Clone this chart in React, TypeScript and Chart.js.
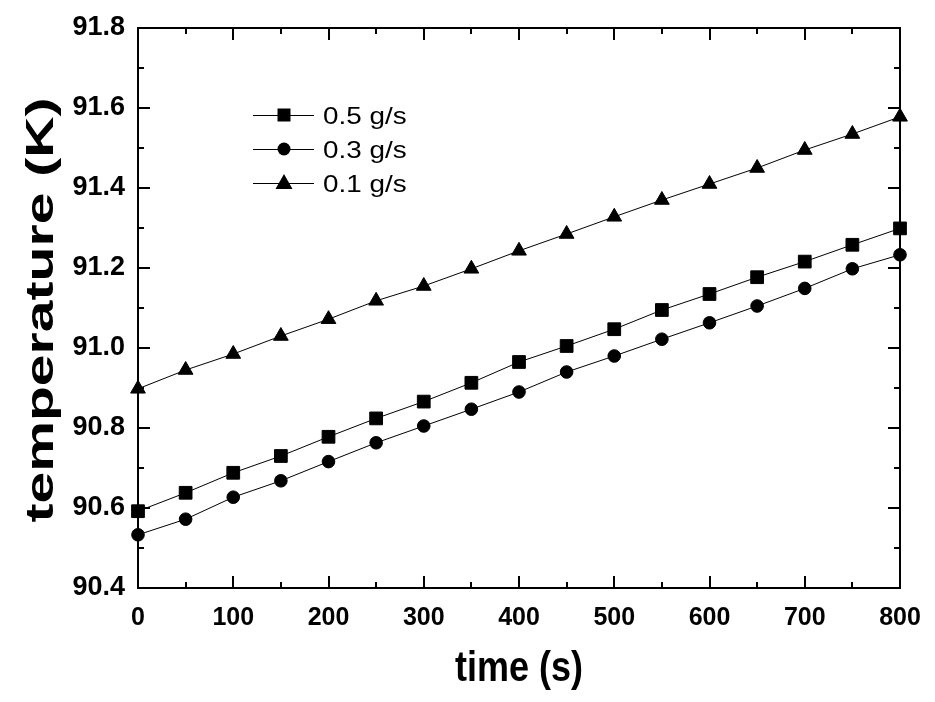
import React, { useEffect, useRef } from "react";
import { Chart, registerables } from "chart.js";

Chart.register(...registerables);

const TIME = [0, 50, 100, 150, 200, 250, 300, 350, 400, 450, 500, 550, 600, 650, 700, 750, 800];
const FLOW_05 = [90.592, 90.638, 90.688, 90.730, 90.778, 90.824, 90.866, 90.913, 90.965, 91.005, 91.047, 91.095, 91.135, 91.177, 91.216, 91.258, 91.299];
const FLOW_03 = [90.533, 90.572, 90.627, 90.668, 90.716, 90.763, 90.805, 90.847, 90.890, 90.940, 90.980, 91.022, 91.063, 91.105, 91.149, 91.198, 91.233];
const FLOW_01 = [90.898, 90.945, 90.985, 91.030, 91.072, 91.118, 91.155, 91.198, 91.243, 91.285, 91.328, 91.370, 91.410, 91.450, 91.495, 91.535, 91.578];
const SERIES_LABELS = ["0.5 g/s", "0.3 g/s", "0.1 g/s"];
const X_TICKS = [0, 100, 200, 300, 400, 500, 600, 700, 800];
const Y_TICKS = [90.4, 90.6, 90.8, 91.0, 91.2, 91.4, 91.6, 91.8];
const X_TITLE = "time (s)";
const Y_TITLE = "temperature (K)";

const FONT = 'Arial, "Liberation Sans", sans-serif';

function drawMarker(ctx: CanvasRenderingContext2D, style: string, x: number, y: number) {
  ctx.beginPath();
  if (style === "rect") {
    ctx.rect(x - 6.5, y - 6.5, 13, 13);
  } else if (style === "circle") {
    ctx.arc(x, y, 6.5, 0, Math.PI * 2);
  } else {
    ctx.moveTo(x, y - 9);
    ctx.lineTo(x + 8.5, y + 6);
    ctx.lineTo(x - 8.5, y + 6);
    ctx.closePath();
  }
  ctx.fill();
}

const framePlugin = {
  id: "framePlugin",
  afterDatasetsDraw(chart: any) {
    const { ctx, chartArea, scales } = chart;
    const { left, top, right, bottom } = chartArea;
    const xs = scales.x;
    const ys = scales.y;
    ctx.save();
    ctx.strokeStyle = "#000";
    ctx.fillStyle = "#000";
    ctx.lineWidth = 2;
    ctx.strokeRect(left, top, right - left, bottom - top);
    // x ticks (major every 100, minor every 50), inward on bottom and top
    for (let i = 0; i <= 16; i++) {
      const v = i * 50;
      const px = Math.round(xs.getPixelForValue(v));
      const len = i % 2 === 0 ? 12 : 6;
      ctx.beginPath();
      ctx.moveTo(px, bottom);
      ctx.lineTo(px, bottom - len);
      ctx.moveTo(px, top);
      ctx.lineTo(px, top + len);
      ctx.stroke();
    }
    // y ticks (major every 0.2, minor every 0.1), inward on left and right
    for (let i = 0; i <= 14; i++) {
      const v = 90.4 + i * 0.1;
      const py = Math.round(ys.getPixelForValue(v));
      const len = i % 2 === 0 ? 12 : 6;
      ctx.beginPath();
      ctx.moveTo(left, py);
      ctx.lineTo(left + len, py);
      ctx.moveTo(right, py);
      ctx.lineTo(right - len, py);
      ctx.stroke();
    }

    // legend
    const datasets = chart.data.datasets;
    ctx.lineWidth = 1;
    datasets.forEach((ds: any, i: number) => {
      const rowY = 115 + i * 34;
      ctx.beginPath();
      ctx.moveTo(253, rowY + 0.5);
      ctx.lineTo(314, rowY + 0.5);
      ctx.stroke();
      drawMarker(ctx, ds.pointStyle, 284, rowY);
      ctx.save();
      ctx.font = `24px ${FONT}`;
      ctx.textBaseline = "alphabetic";
      ctx.textAlign = "left";
      ctx.translate(323, rowY + 9);
      ctx.scale(1.16, 1);
      ctx.fillText(ds.label, 0, 0);
      ctx.restore();
    });

    // x title
    ctx.save();
    ctx.font = `bold 40px ${FONT}`;
    ctx.textAlign = "center";
    ctx.textBaseline = "alphabetic";
    const wx = ctx.measureText(X_TITLE).width;
    ctx.translate((left + right) / 2, 681);
    ctx.scale(128 / wx, 1.08);
    ctx.fillText(X_TITLE, 0, 0);
    ctx.restore();

    // y title
    ctx.save();
    ctx.font = `bold 40px ${FONT}`;
    ctx.textAlign = "center";
    ctx.textBaseline = "alphabetic";
    const wy = ctx.measureText(Y_TITLE).width;
    ctx.translate(53, 310);
    ctx.rotate(-Math.PI / 2);
    ctx.scale(425 / wy, 0.95);
    ctx.fillText(Y_TITLE, 0, 0);
    ctx.restore();

    ctx.restore();
  },
};

export default function App() {
  const canvasRef = useRef<HTMLCanvasElement | null>(null);

  useEffect(() => {
    const canvas = canvasRef.current;
    if (!canvas) return;
    const mk = (label: string, values: number[], style: string, radius: number) => ({
      label,
      data: TIME.map((t, i) => ({ x: t, y: values[i] })),
      borderColor: "#000",
      backgroundColor: "#000",
      borderWidth: 1,
      pointStyle: style,
      pointRadius: radius,
      pointBorderWidth: 1,
      pointBackgroundColor: "#000",
      pointBorderColor: "#000",
      tension: 0,
      clip: false as any,
    });
    const chart = new Chart(canvas, {
      type: "line",
      data: {
        datasets: [
          mk(SERIES_LABELS[0], FLOW_05, "rect", 9),
          mk(SERIES_LABELS[1], FLOW_03, "circle", 6.3),
          mk(SERIES_LABELS[2], FLOW_01, "triangle", 8.5),
        ],
      },
      options: {
        animation: false,
        responsive: false,
        layout: { padding: { top: 28, right: 35, left: 0, bottom: 0 }, autoPadding: false } as any,
        plugins: {
          legend: { display: false },
          tooltip: { enabled: false },
        },
        scales: {
          x: {
            type: "linear",
            min: 0,
            max: 800,
            afterBuildTicks: (s: any) => {
              s.ticks = X_TICKS.map((v) => ({ value: v }));
            },
            ticks: {
              color: "#000",
              font: { family: FONT, weight: "bold", size: 25 },
              padding: 7,
              maxRotation: 0,
              autoSkip: false,
            },
            grid: { display: false },
            border: { display: false },
            afterFit: (s: any) => {
              s.height = 114;
            },
          },
          y: {
            type: "linear",
            min: 90.4,
            max: 91.8,
            afterBuildTicks: (s: any) => {
              s.ticks = Y_TICKS.map((v) => ({ value: v }));
            },
            ticks: {
              color: "#000",
              font: { family: FONT, weight: "bold", size: 27 },
              padding: 5,
              autoSkip: false,
              callback: (v: any) => Number(v).toFixed(1),
            },
            grid: { display: false },
            border: { display: false },
            afterFit: (s: any) => {
              s.width = 138;
            },
          },
        },
      },
      plugins: [framePlugin],
    } as any);
    return () => chart.destroy();
  }, []);

  return (
    <canvas
      ref={canvasRef}
      width={935}
      height={702}
      style={{ position: "absolute", left: 0, top: 0, width: 935, height: 702, background: "#fff" }}
    />
  );
}
